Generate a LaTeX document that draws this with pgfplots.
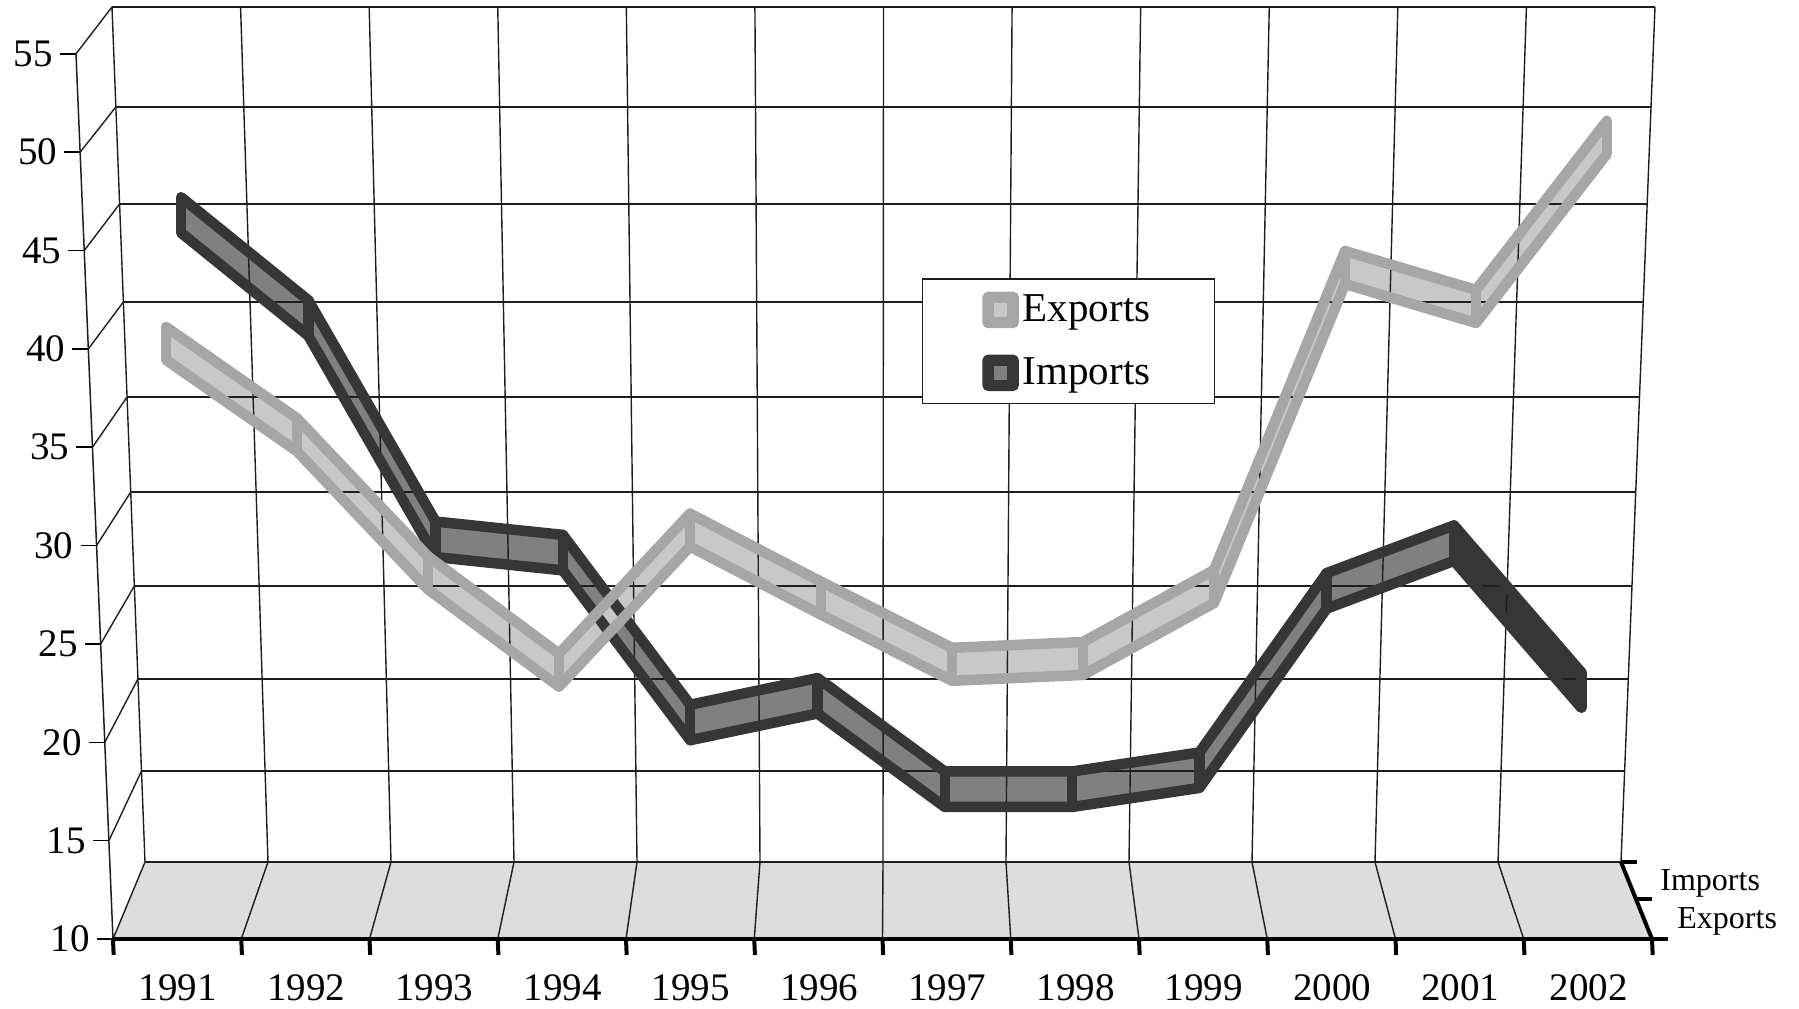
\documentclass[border=0pt]{standalone}
\usepackage{fontspec}
\setmainfont{Liberation Serif}
\usepackage{pgfplots}
\usepackage{pgfplotstable}
\pgfplotsset{compat=1.18}
\usepgfplotslibrary{fillbetween}

\definecolor{impO}{RGB}{54,54,54}
\definecolor{impI}{RGB}{128,128,128}
\definecolor{expO}{RGB}{166,166,166}
\definecolor{expI}{RGB}{200,200,200}
\definecolor{floorc}{RGB}{221,221,221}
\definecolor{gridc}{RGB}{30,30,30}

\pgfplotstableread{
year value
1991 39.8
1992 35.1
1993 28.0
1994 23.0
1995 30.2
1996 26.7
1997 23.3
1998 23.6
1999 27.3
2000 43.7
2001 41.7
2002 50.4
}\exports
\pgfplotstableread{
year value
1991 45.1
1992 39.7
1993 28.1
1994 27.4
1995 18.5
1996 19.9
1997 15.0
1998 15.0
1999 16.0
2000 25.4
2001 27.9
2002 20.2
}\imports

\begin{document}
\begin{tikzpicture}
% ---------- background (pixel space) : floor, walls, depth axis, legend
\begin{axis}[at={(0pt,0pt)}, anchor=south west, scale only axis,
  width=899.5pt, height=504pt, xmin=0, xmax=1799, ymin=0, ymax=1008,
  y dir=reverse, hide axis, clip=false, enlargelimits=false,
  legend cell align=left,
  legend style={at={(0.5123,0.7239)}, anchor=north west, draw=gridc,
    line width=0.75pt, fill=white, font=\fontsize{20.5}{24}\selectfont,
    inner xsep=30pt, inner ysep=6pt, row sep=12.5pt}]
  \path (0,0) rectangle (1799,1008);
  \fill[floorc] (113,939) -- (1652,939) -- (1621,862) -- (145,862) -- cycle;
  \pgfplotsinvokeforeach{0,...,11}{
    \draw[gridc, line width=0.7pt] ({113+128.25*#1},939) -- ({145+123*#1},862);}
  \pgfplotsinvokeforeach{0,...,12}{
    \draw[gridc, line width=0.7pt] ({145+123*#1},862) -- ({112+128.583*#1},7);}
  \pgfplotsinvokeforeach{862,771,679,586,492,397,302,204,107,7}{
    \draw[gridc, line width=0.7pt] ({145-33*(862-#1)/855},#1) -- ({1621+34*(862-#1)/855},#1);}
  \draw[gridc, line width=0.7pt]
    (108.9,840.65) -- (141.49,771)
    (104.78,742.3) -- (137.94,679)
    (100.67,643.95) -- (134.35,586)
    (96.56,545.6) -- (130.72,492)
    (92.45,447.25) -- (127.05,397)
    (88.34,348.9) -- (123.39,302)
    (84.23,250.55) -- (119.6,204)
    (80.12,152.2) -- (115.86,107)
    (76.01,53.85) -- (112,7);
  \draw[black, line width=2pt] (1652,939) -- (1621,862);
  \draw[black, line width=2pt] (1621,862) -- (1637,862)
    (1636,898.5) -- (1652,898.5) (1652,939) -- (1668,939);
  \node[anchor=base west, inner sep=0pt, font=\fontsize{16}{18}\selectfont] at (1660,890) {Imports};
  \node[anchor=base west, inner sep=0pt, font=\fontsize{16}{18}\selectfont] at (1677,928) {Exports};
  \addlegendimage{legend image code/.code={
     \fill[expO, rounded corners=2.5pt] (0pt,-8.75pt) rectangle (17.5pt,8.75pt);
     \fill[expI] (5.75pt,-3pt) rectangle (11.75pt,3pt);}}
  \addlegendentry{Exports}
  \addlegendimage{legend image code/.code={
     \fill[impO, rounded corners=2.5pt] (0pt,-8.75pt) rectangle (17.5pt,8.75pt);
     \fill[impI] (5.75pt,-3pt) rectangle (11.75pt,3pt);}}
  \addlegendentry{Imports}
\end{axis}

% ---------- front value axis and category axis
\begin{axis}[at={(56.5pt,34.5pt)}, anchor=origin,
  x={(64.125pt,0pt)}, y={(-0.411pt,9.835pt)},
  xmin=0, xmax=12, ymin=10, ymax=55, enlargelimits=false,
  axis lines=left, axis line style={-},
  x axis line style={line width=2pt, black, -},
  y axis line style={line width=0.75pt, gridc, -},
  xtick={0,...,12}, xticklabels={},
  extra x ticks={0.5,1.5,...,11.5},
  extra x tick labels={1991,1992,1993,1994,1995,1996,1997,1998,1999,2000,2001,2002},
  extra x tick style={major tick length=0pt, tick label style={yshift=-14.5pt}},
  ytick={10,15,...,55},
  tick align=outside, major tick length=8pt,
  xtick style={line width=2pt, black},
  ytick style={line width=0.75pt, black},
  tick label style={font=\fontsize{19.5}{22}\selectfont, black},
  /pgf/number format/assume math mode=true,
  clip=false]
\end{axis}

% ---------- Imports ribbon (back row)
\begin{axis}[at={(90.5pt,109.375pt)}, anchor=south west, scale only axis,
  width=700.15pt, height=286.2pt, xmin=1991, xmax=2002, ymin=15, ymax=45,
  enlargelimits=false, hide axis, clip=false]
  \addplot[draw=none, name path=iT, yshift=8.875pt] table[x=year,y=value]{\imports};
  \addplot[draw=none, name path=iB, yshift=-8.875pt] table[x=year,y=value]{\imports};
  \addplot[fill=impI, draw=none] fill between[of=iT and iB];
  \addplot[draw=none, name path=iT2, yshift=8.875pt, restrict x to domain=2001:2002] table[x=year,y=value]{\imports};
  \addplot[draw=none, name path=iB2, yshift=-8.875pt, restrict x to domain=2001:2002] table[x=year,y=value]{\imports};
  \addplot[fill=impO, draw=none] fill between[of=iT2 and iB2];
  \addplot[draw=impO, line width=5.25pt, line join=round, yshift=8.875pt] table[x=year,y=value]{\imports};
  \addplot[draw=impO, line width=5.25pt, line join=round, yshift=-8.875pt] table[x=year,y=value]{\imports};
  \addplot[-, draw=impO, line width=5.25pt, line cap=round, mark=none, yshift=-8.875pt,
    quiver={u=0, v=1.86}] table[x=year,y=value]{\imports};
\end{axis}

% ---------- Exports ribbon (front row)
\begin{axis}[at={(83pt,91.125pt)}, anchor=south west, scale only axis,
  width=720.5pt, height=291.75pt, xmin=1991, xmax=2002, ymin=15, ymax=45,
  enlargelimits=false, hide axis, clip=false]
  \addplot[draw=none, name path=eT, yshift=8.25pt] table[x=year,y=value]{\exports};
  \addplot[draw=none, name path=eB, yshift=-8.25pt] table[x=year,y=value]{\exports};
  \addplot[fill=expI, draw=none] fill between[of=eT and eB];
  \addplot[draw=expO, line width=5.25pt, line join=round, yshift=8.25pt] table[x=year,y=value]{\exports};
  \addplot[draw=expO, line width=5.25pt, line join=round, yshift=-8.25pt] table[x=year,y=value]{\exports};
  \addplot[-, draw=expO, line width=5.25pt, line cap=round, mark=none, yshift=-8.25pt,
    quiver={u=0, v=1.696}] table[x=year,y=value]{\exports};
\end{axis}
\end{tikzpicture}
\end{document}
